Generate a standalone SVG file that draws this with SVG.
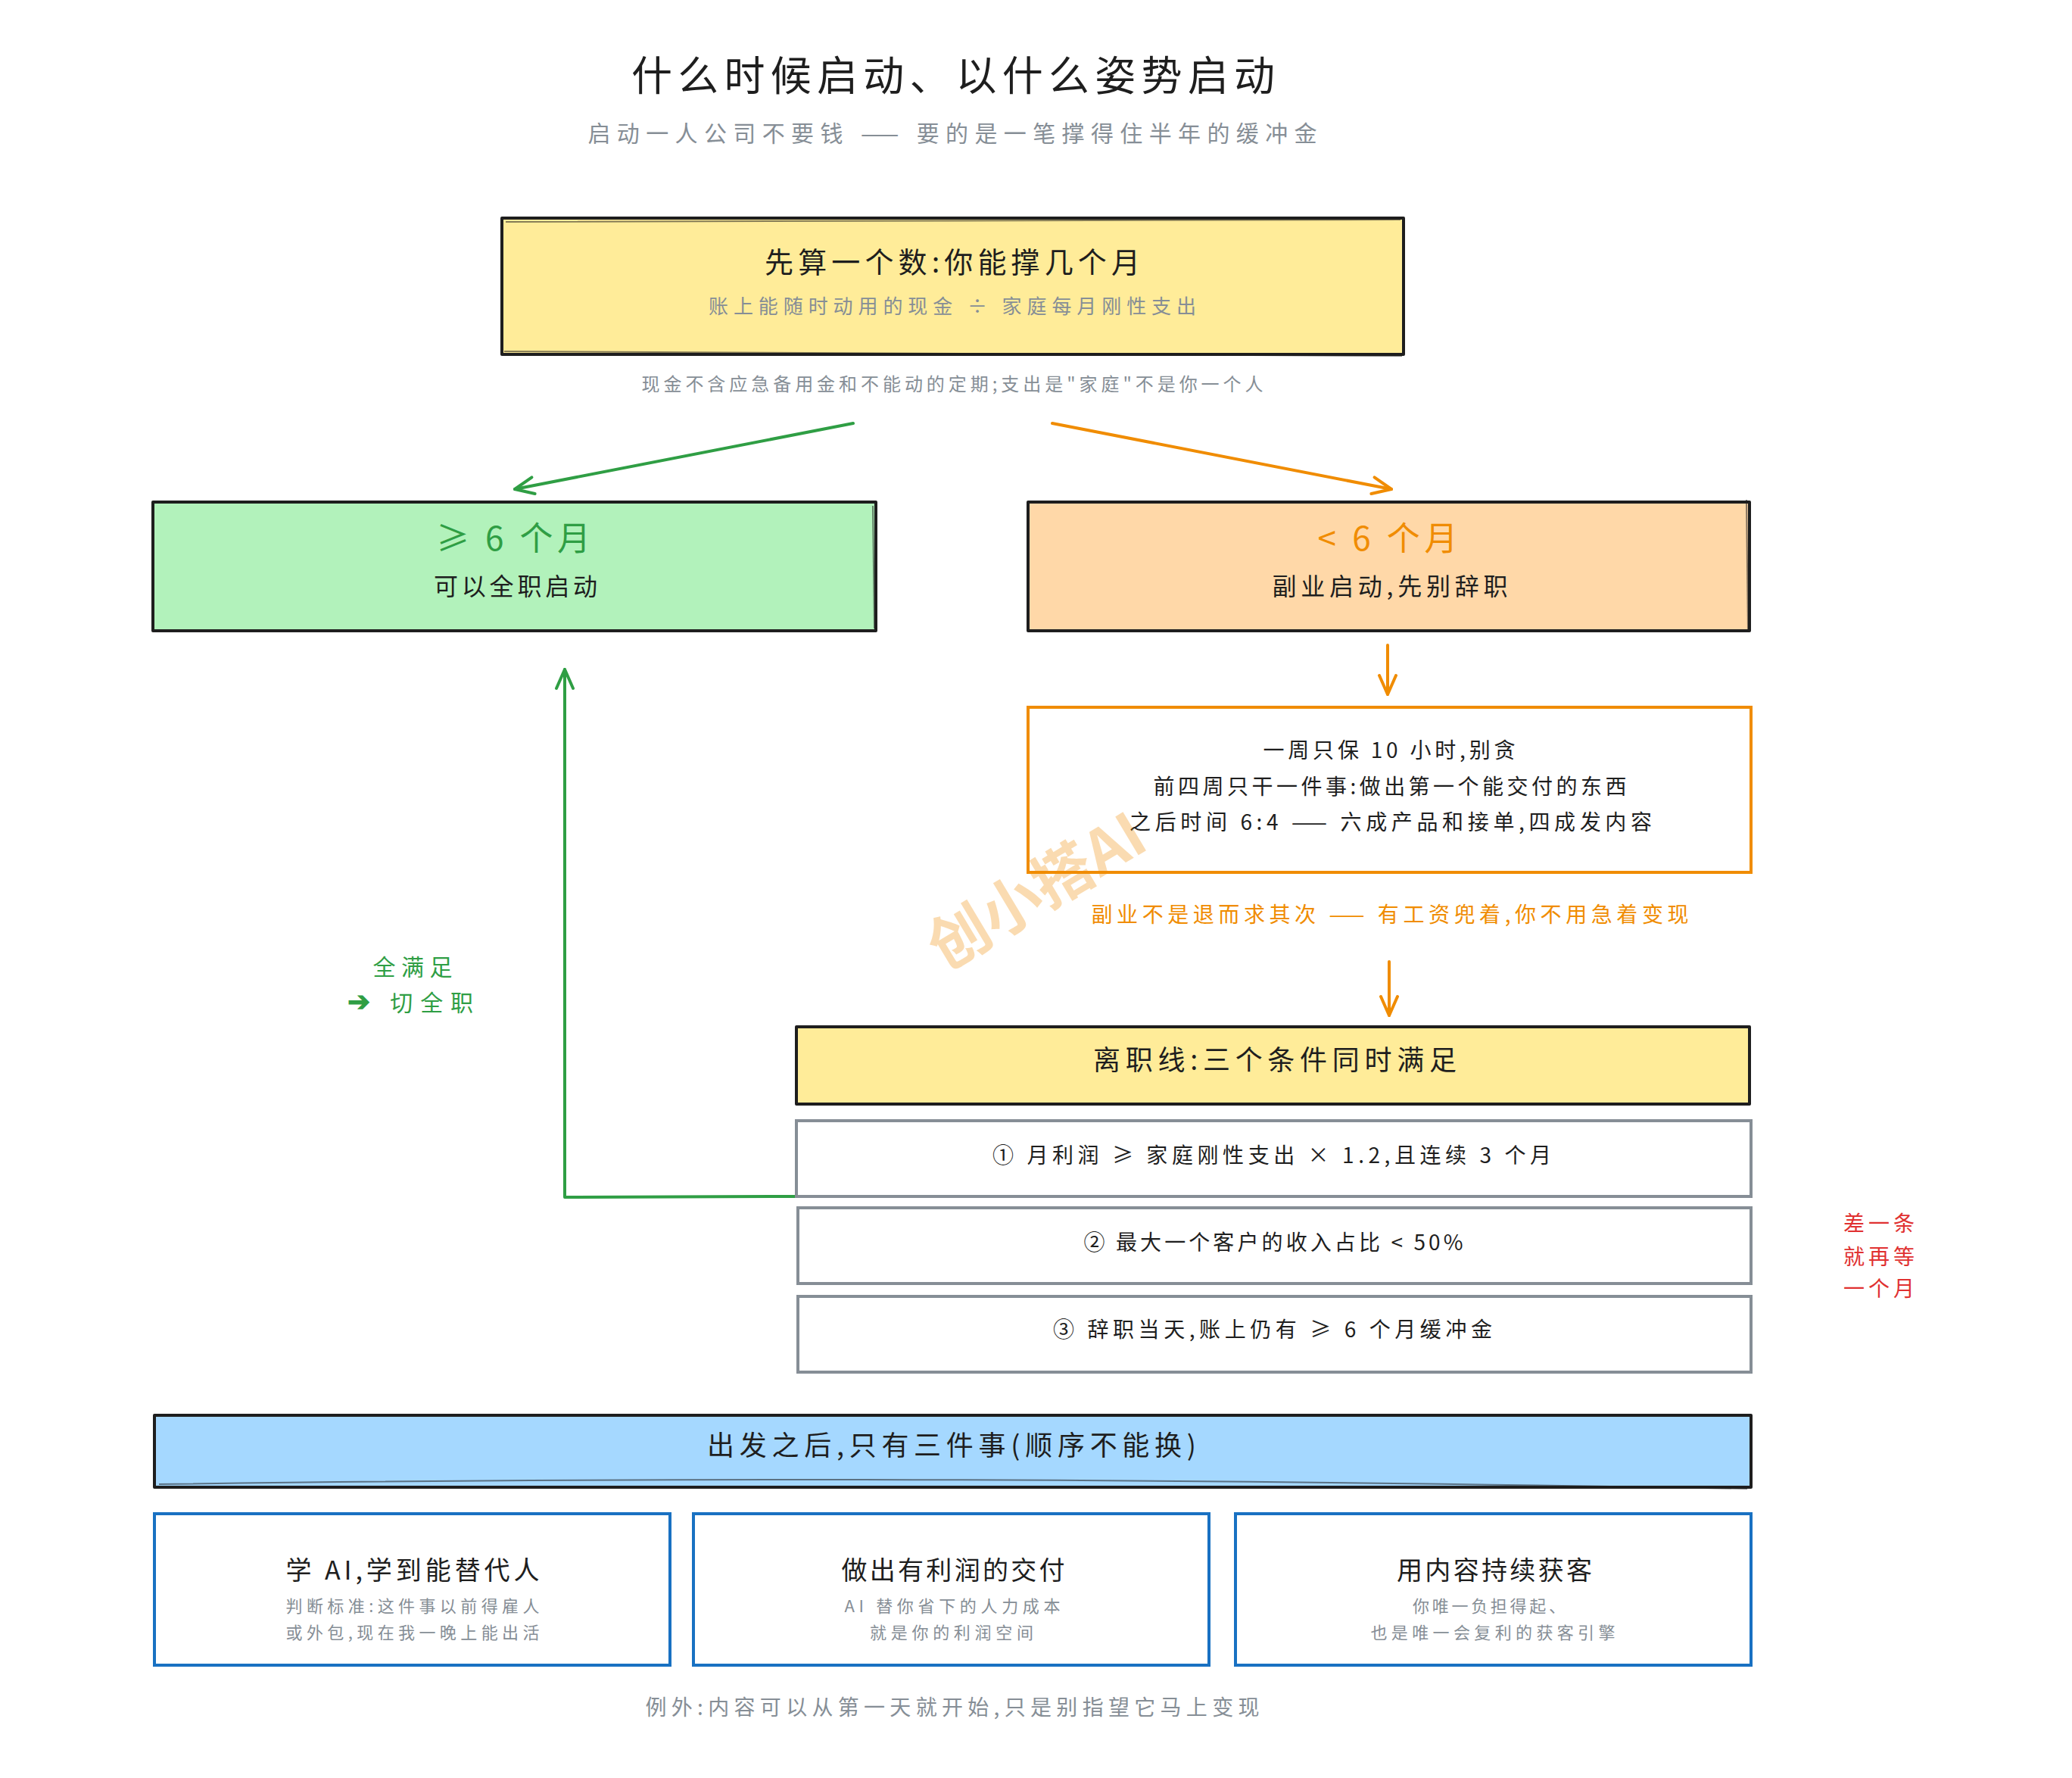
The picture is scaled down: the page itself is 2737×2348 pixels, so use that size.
<svg xmlns="http://www.w3.org/2000/svg" width="2737" height="2348" viewBox="0 0 2737 2348">
<defs>
<style>
text{font-family:"Noto Sans CJK SC","Noto Sans",sans-serif;text-anchor:middle;}
.dk{fill:#1e1e1e;}
.gy{fill:#868e96;}
.gr{fill:#2f9e44;}
.or{fill:#f08c00;}
.rd{fill:#e03131;}
.box{stroke:#1e1e1e;stroke-width:4;stroke-linejoin:round;}
.sk{fill:none;stroke-width:2;opacity:0.55;}
.yel{fill:#ffec99;}
.grn{fill:#b2f2bb;}
.org{fill:#ffd8a8;}
.blu{fill:#a5d8ff;}
.obox{fill:#ffffff;stroke:#f08c00;stroke-width:4;}
.gbox{fill:#ffffff;stroke:#868e96;stroke-width:4;}
.bbox{fill:#ffffff;stroke:#1971c2;stroke-width:4;}
.cg{fill:none;stroke:#2f9e44;stroke-width:4;stroke-linecap:round;stroke-linejoin:round;}
.co{fill:none;stroke:#f08c00;stroke-width:4;stroke-linecap:round;stroke-linejoin:round;}
</style>
<marker id="ag" markerUnits="userSpaceOnUse" viewBox="0 0 30 30" markerWidth="30" markerHeight="30" refX="28" refY="15" orient="auto">
<path d="M3,4 L28,15 L3,26" fill="none" stroke="#2f9e44" stroke-width="4" stroke-linecap="round" stroke-linejoin="round"/>
</marker>
<marker id="ao" markerUnits="userSpaceOnUse" viewBox="0 0 30 30" markerWidth="30" markerHeight="30" refX="28" refY="15" orient="auto">
<path d="M3,4 L28,15 L3,26" fill="none" stroke="#f08c00" stroke-width="4" stroke-linecap="round" stroke-linejoin="round"/>
</marker>
</defs>
<rect x="0" y="0" width="2737" height="2348" fill="#ffffff"/>

<g id="title">
<text class="dk" x="1259" y="120" font-size="54" textLength="850">什么时候启动、以什么姿势启动</text>
<text class="gy" x="1258" y="187" font-size="30" textLength="963">启动一人公司不要钱 —— 要的是一笔撑得住半年的缓冲金</text>
</g>

<g id="connectors">
<line class="cg" x1="1127" y1="559" x2="680" y2="646" marker-end="url(#ag)"/>
<line class="co" x1="1390" y1="559" x2="1838" y2="646" marker-end="url(#ao)"/>
<line class="co" x1="1833" y1="852" x2="1833" y2="917" marker-end="url(#ao)"/>
<line class="co" x1="1835" y1="1270" x2="1835" y2="1341" marker-end="url(#ao)"/>
<polyline class="cg" points="1054,1580 746,1581 746,884" marker-end="url(#ag)"/>
</g>

<g id="n-calc">
<rect class="box yel" x="663" y="288" width="1191" height="180"/>
<path class="sk" stroke="#1e1e1e" d="M668,293 L1850,290 M666,464 L1852,470"/>
<text class="dk" x="1258" y="360" font-size="38" textLength="496">先算一个数:你能撑几个月</text>
<text class="gy" x="1258" y="414" font-size="26" textLength="644">账上能随时动用的现金 ÷ 家庭每月刚性支出</text>
</g>
<g id="n-calc-note">
<text class="gy" x="1258" y="516" font-size="24" textLength="821">现金不含应急备用金和不能动的定期;支出是"家庭"不是你一个人</text>
</g>

<g id="n-full">
<rect class="box grn" x="202" y="663" width="955" height="170"/>
<path class="sk" stroke="#1e1e1e" d="M1153,668 L1155,830"/>
<text class="gr" x="678" y="727" font-size="44" textLength="204">≥ 6 个月</text>
<text class="dk" x="681" y="786" font-size="32" textLength="216">可以全职启动</text>
</g>

<g id="n-side">
<rect class="box org" x="1358" y="663" width="953" height="170"/>
<path class="sk" stroke="#1e1e1e" d="M2307,660 L2309,832"/>
<text class="or" x="1833" y="727" font-size="44" textLength="185">&lt; 6 个月</text>
<text class="dk" x="1836" y="786" font-size="32" textLength="311">副业启动,先别辞职</text>
</g>

<g id="n-plan">
<rect class="obox" x="1358" y="934" width="955" height="218"/>
<text class="dk" x="1835" y="1001" font-size="28" textLength="333">一周只保 10 小时,别贪</text>
<text class="dk" x="1836" y="1049" font-size="28" textLength="625">前四周只干一件事:做出第一个能交付的东西</text>
<text class="dk" x="1837" y="1096" font-size="28" textLength="690">之后时间 6:4 —— 六成产品和接单,四成发内容</text>
</g>

<g id="n-side-note">
<text class="or" x="1836" y="1218" font-size="28" textLength="789">副业不是退而求其次 —— 有工资兜着,你不用急着变现</text>
</g>

<g id="n-quitline">
<rect class="box yel" x="1052" y="1356" width="1259" height="102"/>
<text class="dk" x="1684" y="1413" font-size="36" textLength="480">离职线:三个条件同时满足</text>
</g>

<g id="n-cond1">
<rect class="gbox" x="1052" y="1480" width="1261" height="100"/>
<text class="dk" x="1680" y="1536" font-size="28" textLength="738">① 月利润 ≥ 家庭刚性支出 × 1.2,且连续 3 个月</text>
</g>
<g id="n-cond2">
<rect class="gbox" x="1054" y="1595" width="1259" height="100"/>
<text class="dk" x="1682" y="1651" font-size="28" textLength="501">② 最大一个客户的收入占比 &lt; 50%</text>
</g>
<g id="n-cond3">
<rect class="gbox" x="1054" y="1712" width="1259" height="100"/>
<text class="dk" x="1681" y="1766" font-size="28" textLength="580">③ 辞职当天,账上仍有 ≥ 6 个月缓冲金</text>
</g>

<g id="n-allmet">
<text class="gr" x="545" y="1288" font-size="30" textLength="105">全满足</text>
<text class="gr" x="542" y="1335" font-size="30" textLength="166"><tspan font-size="36" font-weight="bold">➔</tspan> 切全职</text>
</g>

<g id="n-miss">
<text class="rd" x="2482" y="1626" font-size="28" textLength="94">差一条</text>
<text class="rd" x="2482" y="1670" font-size="28" textLength="94">就再等</text>
<text class="rd" x="2482" y="1712" font-size="28" textLength="94">一个月</text>
</g>

<g id="n-after">
<rect class="box blu" x="204" y="1869" width="2109" height="95"/>
<path class="sk" stroke="#1e1e1e" d="M210,1960 C800,1952 1400,1950 2308,1966"/>
<text class="dk" x="1257" y="1922" font-size="36" textLength="646">出发之后,只有三件事(顺序不能换)</text>
</g>

<g id="n-ai">
<rect class="bbox" x="204" y="1999" width="681" height="200"/>
<text class="dk" x="545" y="2086" font-size="34" textLength="335">学 AI,学到能替代人</text>
<text class="gy" x="545" y="2129" font-size="22" textLength="335">判断标准:这件事以前得雇人</text>
<text class="gy" x="545" y="2164" font-size="22" textLength="335">或外包,现在我一晚上能出活</text>
</g>
<g id="n-profit">
<rect class="bbox" x="916" y="1999" width="681" height="200"/>
<text class="dk" x="1259" y="2086" font-size="34" textLength="295">做出有利润的交付</text>
<text class="gy" x="1258" y="2129" font-size="22" textLength="285">AI 替你省下的人力成本</text>
<text class="gy" x="1257" y="2164" font-size="22" textLength="216">就是你的利润空间</text>
</g>
<g id="n-content">
<rect class="bbox" x="1632" y="1999" width="681" height="200"/>
<text class="dk" x="1974" y="2086" font-size="34" textLength="258">用内容持续获客</text>
<text class="gy" x="1967" y="2129" font-size="22" textLength="202">你唯一负担得起、</text>
<text class="gy" x="1972" y="2164" font-size="22" textLength="323">也是唯一会复利的获客引擎</text>
</g>

<g id="n-exception">
<text class="gy" x="1258" y="2265" font-size="28" textLength="811">例外:内容可以从第一天就开始,只是别指望它马上变现</text>
</g>

<g id="watermark">
<text x="1370" y="1205" font-size="80" font-weight="bold" fill="#f08c00" opacity="0.3" transform="rotate(-31 1370 1178)">创小搭AI</text>
</g>
</svg>
